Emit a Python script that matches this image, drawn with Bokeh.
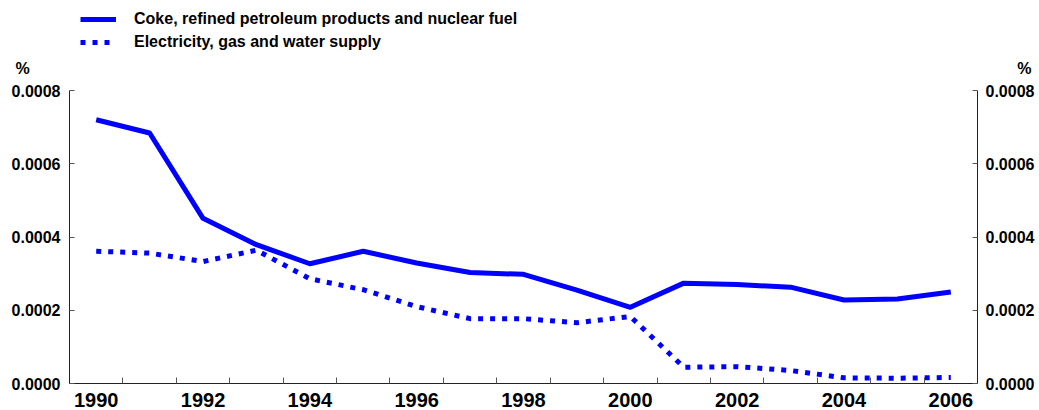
from bokeh.plotting import figure
from bokeh.models import (Range1d, LinearAxis, FixedTicker, PrintfTickFormatter,
                          Legend, LegendItem, Label)
from bokeh.embed import file_html
from bokeh.resources import INLINE

years = list(range(1990, 2007))
coke = [0.000720, 0.000684, 0.000451, 0.000379, 0.000327, 0.000361, 0.000329,
        0.000303, 0.000298, 0.000255, 0.000208, 0.000274, 0.000270, 0.000263,
        0.000228, 0.000231, 0.000250]
electricity = [0.000361, 0.000356, 0.000333, 0.000364, 0.000286, 0.000256,
               0.000210, 0.000177, 0.000177, 0.000166, 0.000183, 0.0000445,
               0.000046, 0.0000355, 0.0000155, 0.0000145, 0.0000164]
series_names = ["Coke, refined petroleum products and nuclear fuel",
                "Electricity, gas and water supply"]
x_tick_years = [1990, 1992, 1994, 1996, 1998, 2000, 2002, 2004, 2006]
x_tick_labels = [str(y) for y in x_tick_years]
y_ticks = [0.0, 0.0002, 0.0004, 0.0006, 0.0008]
unit_label = "%"

FONT = "Liberation Sans"
BLUE = "#0000FF"
W, H = 1039, 410

# plot area (in pixels) inside the canvas
LEFT, RIGHT, TOP, BOTTOM = 69, 977, 90, 383
X0, X1 = 1989.5, 2006.5
Y0, Y1 = 0.0, 0.0008
xpp = (X1 - X0) / (RIGHT - LEFT)
ypp = (Y1 - Y0) / (BOTTOM - TOP)
x_range = Range1d(X0 - LEFT * xpp, X1 + (W - RIGHT) * xpp)
y_range = Range1d(Y0 - (H - BOTTOM) * ypp, Y1 + TOP * ypp)

p = figure(width=W, height=H, output_backend="svg", toolbar_location=None,
           x_range=x_range, y_range=y_range, x_axis_type=None, y_axis_type=None,
           min_border_left=0, min_border_right=0, min_border_top=0,
           min_border_bottom=0, title=None)
p.outline_line_color = None
p.xgrid.visible = False
p.ygrid.visible = False

r1 = p.line(years, coke, line_width=5, line_color=BLUE, line_join="round")
r2 = p.line(years, electricity, line_width=5, line_color=BLUE, line_dash="5 7")

# x axis
xa = LinearAxis(fixed_location=Y0, bounds=(X0, X1))
xa.ticker = FixedTicker(ticks=x_tick_years,
                        minor_ticks=[y + 0.5 for y in range(1989, 2007)])
xa.major_label_overrides = {y: l for y, l in zip(x_tick_years, x_tick_labels)}
xa.major_tick_in = 0
xa.major_tick_out = 0
xa.minor_tick_in = 6
xa.minor_tick_out = 0
xa.minor_tick_line_color = "#555555"
xa.axis_line_color = "#222222"
xa.major_label_standoff = 9
xa.major_label_text_font = FONT
xa.major_label_text_font_style = "bold"
xa.major_label_text_font_size = "20px"
xa.major_label_text_color = "black"
p.add_layout(xa, "below")

# y axes
ya = LinearAxis(fixed_location=X0, bounds=(Y0, Y1))
ra = LinearAxis(fixed_location=X1, bounds=(Y0, Y1))
p.add_layout(ya, "left")
p.add_layout(ra, "right")
for ax, so in ((ya, 9), (ra, 8)):
    ax.ticker = FixedTicker(ticks=y_ticks, minor_ticks=[])
    ax.formatter = PrintfTickFormatter(format="%.4f")
    ax.major_tick_in = 5
    ax.major_tick_out = 0
    ax.minor_tick_in = 0
    ax.minor_tick_out = 0
    ax.major_tick_line_color = "#555555"
    ax.axis_line_color = "#222222"
    ax.major_label_standoff = so
    ax.major_label_text_font = FONT
    ax.major_label_text_font_style = "bold"
    ax.major_label_text_font_size = "16px"
    ax.major_label_text_color = "black"

# unit labels
for xs, align in ((15, "left"), (1031, "right")):
    p.add_layout(Label(x=xs, y=H - 68, x_units="screen", y_units="screen",
                       text=unit_label, text_align=align,
                       text_baseline="middle", text_font=FONT,
                       text_font_style="bold", text_font_size="16px",
                       text_color="black"))

legend = Legend(items=[LegendItem(label=series_names[0], renderers=[r1]),
                       LegendItem(label=series_names[1], renderers=[r2])],
                location=(80, H - 52))
legend.glyph_width = 36
legend.glyph_height = 20
legend.label_height = 20
legend.label_standoff = 18
legend.spacing = 3
legend.padding = 0
legend.margin = 0
legend.border_line_color = None
legend.background_fill_alpha = 0
legend.label_text_font = FONT
legend.label_text_font_style = "bold"
legend.label_text_font_size = "16px"
legend.label_text_color = "black"
p.add_layout(legend)

open("out.html", "w").write(file_html(p, INLINE))
